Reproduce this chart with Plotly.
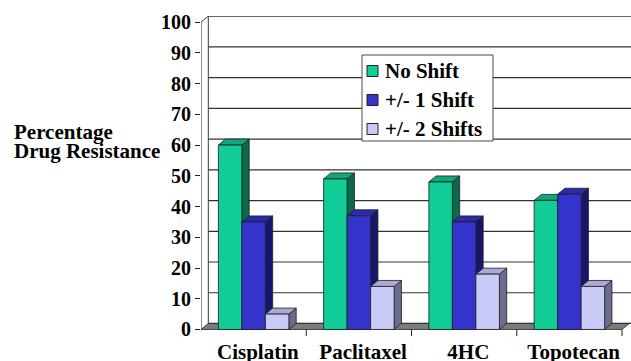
import plotly.graph_objects as go

categories = ["Cisplatin", "Paclitaxel", "4HC", "Topotecan"]
series_names = ["No Shift", "+/- 1 Shift", "+/- 2 Shifts"]
no_shift = [60, 49, 48, 42]
shift_1 = [35, 37, 35, 44]
shift_2 = [5, 14, 18, 14]
y_ticks = list(range(0, 101, 10))
y_title_lines = ["Percentage", "Drug Resistance"]

series_values = [no_shift, shift_1, shift_2]
front_colors = ["#10CC96", "#3434CC", "#CACAF8"]
top_colors = ["#0FA87C", "#2A2AAE", "#A9A9D8"]
side_colors = ["#0B6A4C", "#16166A", "#6C6C8E"]

FAMILY = "Liberation Serif"
TICKFONT_Y = dict(family=FAMILY, size=20, color="black", weight="bold")
TICKFONT_X = dict(family=FAMILY, size=21, color="black", weight="bold")
TEXTFONT = dict(family=FAMILY, size=21, color="black", weight="bold")

DX = 0.0694   # depth offset (category units)
DY = 1.95     # depth offset (value units)
GROUP = 0.67
BW = GROUP / 3
N = len(categories)

W, H = 631, 361
ML, MT, MB, MR = 201, 16, 30, 0
PW, PH = W - ML - MR, H - MT - MB


def px_x(px):
    return (px - ML) / PW


def px_y(py):
    return (H - MB - py) / PH


fig = go.Figure()

# 3D bars: side, top, front faces for each series
for si, vals in enumerate(series_values):
    sx, sy, tx, ty, fx, fy = [], [], [], [], [], []
    for i, h in enumerate(vals):
        x0 = i - GROUP / 2 + si * BW
        x1 = x0 + BW
        sx += [x1, x1 + DX, x1 + DX, x1, x1, None]
        sy += [0, DY, h + DY, h, 0, None]
        tx += [x0, x1, x1 + DX, x0 + DX, x0, None]
        ty += [h, h, h + DY, h + DY, h, None]
        fx += [x0, x1, x1, x0, x0, None]
        fy += [0, 0, h, h, 0, None]
    for xs, ys, col in ((sx, sy, side_colors[si]), (tx, ty, top_colors[si]), (fx, fy, front_colors[si])):
        fig.add_trace(go.Scatter(
            x=xs, y=ys, mode="lines", fill="toself", fillcolor=col,
            line=dict(color="#1e1e1e", width=0.8),
            hoverinfo="skip", showlegend=False, name=series_names[si],
        ))

shapes = []
# floor
shapes.append(dict(type="path", xref="x", yref="y", layer="below",
                   path=f"M -0.5,0 L {N - 0.5},0 L {N - 0.5 + DX},{DY} L {-0.5 + DX},{DY} Z",
                   fillcolor="#7c7c7c", line=dict(color="#444444", width=1)))
# back wall gridlines
for v in y_ticks:
    shapes.append(dict(type="line", xref="x", yref="y", layer="below",
                       x0=-0.5 + DX, x1=N - 0.5 + DX + 0.1, y0=v + DY, y1=v + DY,
                       line=dict(color="#333333", width=1.2)))
# back-left wall edge
shapes.append(dict(type="line", xref="x", yref="y", layer="below",
                   x0=-0.5 + DX, x1=-0.5 + DX, y0=DY, y1=100 + DY,
                   line=dict(color="#3a3a3a", width=1)))
# top diagonal of side wall
shapes.append(dict(type="line", xref="x", yref="y", layer="below",
                   x0=-0.5, x1=-0.5 + DX, y0=100, y1=100 + DY,
                   line=dict(color="#3a3a3a", width=1)))
# front value axis line
shapes.append(dict(type="line", xref="x", yref="y",
                   x0=-0.5, x1=-0.5, y0=0, y1=100,
                   line=dict(color="#222222", width=1)))
# category boundary ticks
for k in range(1, N + 1):
    shapes.append(dict(type="line", xref="x", yref="paper",
                       x0=k - 0.5, x1=k - 0.5, y0=px_y(329.5), y1=px_y(336),
                       line=dict(color="#222222", width=1)))

# legend (box, swatches, labels)
annotations = []
shapes.append(dict(type="rect", xref="paper", yref="paper",
                   x0=px_x(362), x1=px_x(493), y0=px_y(55), y1=px_y(141),
                   fillcolor="white", line=dict(color="#4a4a4a", width=1)))
legend_rows = [71, 100, 129]
for si, name in enumerate(series_names):
    cy = legend_rows[si]
    shapes.append(dict(type="rect", xref="paper", yref="paper",
                       x0=px_x(367), x1=px_x(378), y0=px_y(cy + 5.5), y1=px_y(cy - 5.5),
                       fillcolor=front_colors[si], line=dict(color="#222222", width=1)))
    annotations.append(dict(text=name, xref="paper", yref="paper",
                            x=px_x(383), y=px_y(cy), xanchor="left", yanchor="middle",
                            showarrow=False, font=TEXTFONT))

# value-axis title (two lines, tight spacing)
for line_text, cy in zip(y_title_lines, [132, 151]):
    annotations.append(dict(text=line_text, xref="paper", yref="paper",
                            x=px_x(12), y=px_y(cy), xanchor="left", yanchor="middle",
                            align="left", showarrow=False, font=TEXTFONT))

fig.update_layout(
    width=W, height=H,
    margin=dict(l=ML, r=MR, t=MT, b=MB, pad=0),
    paper_bgcolor="white", plot_bgcolor="white",
    font=dict(family=FAMILY, color="black"),
    showlegend=False,
    shapes=shapes,
    annotations=annotations,
    xaxis=dict(range=[-0.5, -0.5 + PW / 105.25], showgrid=False, zeroline=False,
               showline=False, tickvals=[i + 0.04 for i in range(N)], ticktext=categories,
               ticks="", ticklabelstandoff=6, tickfont=TICKFONT_X, fixedrange=True,
               automargin=False),
    yaxis=dict(range=[-0.5, 102], showgrid=False, zeroline=False, showline=False,
               tickvals=y_ticks, ticks="outside", ticklen=5, tickcolor="#222222",
               tickfont=TICKFONT_Y, fixedrange=True, automargin=False),
)

fig.write_html("out.html", config={"displayModeBar": False, "staticPlot": True},
               post_script="document.body.style.margin='0px';document.body.style.overflow='hidden';")
